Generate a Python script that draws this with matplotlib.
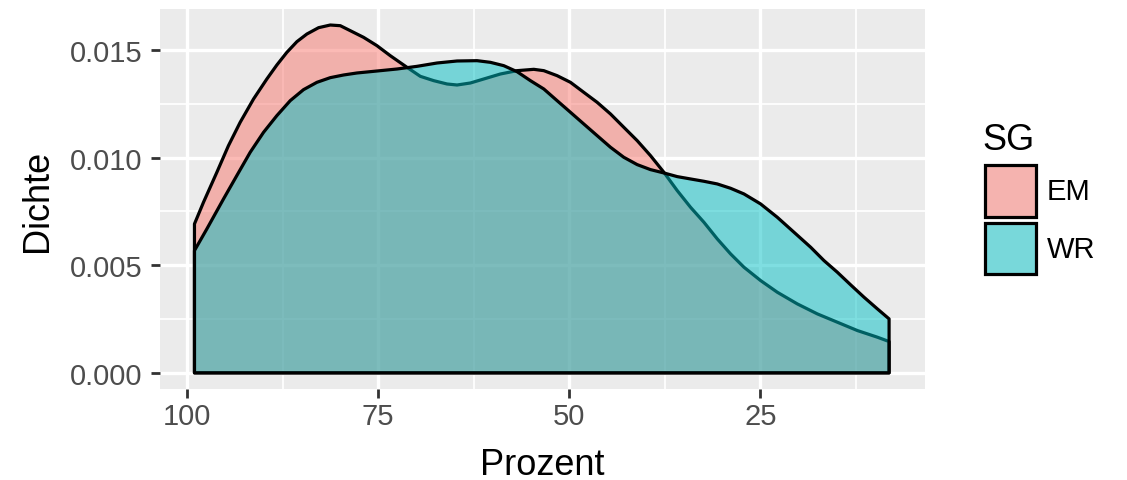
import matplotlib
matplotlib.use('Agg')
import matplotlib.pyplot as plt
from matplotlib.patches import Rectangle

plt.rcParams['font.family'] = ['Liberation Sans', 'DejaVu Sans']

# Dichte-Kurven
prozent_em = [99.04, 97.86, 96.11, 94.59, 93.06, 91.31, 89.57, 88.26, 86.95, 85.64,
              84.33, 82.80, 81.27, 79.96, 78.65, 76.91, 75.16, 73.42, 71.23, 69.49,
              67.74, 65.99, 64.68, 62.94, 61.19, 59.01, 56.83, 54.64, 53.33, 51.59,
              49.84, 48.10, 46.35, 44.60, 42.86, 41.11, 39.37, 37.62, 35.87, 34.13,
              32.38, 30.63, 28.89, 27.14, 24.96, 22.78, 20.16, 17.54, 14.92, 12.30,
              9.68, 8.15]
dichte_em = [0.006917, 0.007923, 0.009316, 0.010554, 0.011637, 0.012721, 0.013649,
             0.014299, 0.014887, 0.015382, 0.015738, 0.016032, 0.016156, 0.016125,
             0.015893, 0.015583, 0.015196, 0.014732, 0.014191, 0.013773, 0.013572,
             0.013417, 0.013370, 0.013463, 0.013649, 0.013881, 0.014036, 0.014098,
             0.014036, 0.013804, 0.013494, 0.013030, 0.012566, 0.012024, 0.011405,
             0.010786, 0.010090, 0.009316, 0.008465, 0.007691, 0.006995, 0.006221,
             0.005525, 0.004906, 0.004287, 0.003745, 0.003203, 0.002739, 0.002352,
             0.001965, 0.001656, 0.001455]

prozent_wr = [99.04, 97.42, 95.24, 93.50, 91.75, 90.00, 88.26, 86.51, 84.77, 83.02,
              81.27, 79.53, 77.78, 75.16, 72.54, 69.92, 67.30, 64.68, 62.07, 60.32,
              58.57, 56.83, 55.08, 53.33, 51.59, 49.84, 48.10, 46.35, 44.60, 42.86,
              41.11, 39.37, 37.62, 35.87, 34.13, 32.38, 30.63, 28.89, 27.14, 24.96,
              22.78, 20.59, 18.41, 16.67, 14.92, 13.17, 11.43, 9.68, 8.15]
dichte_wr = [0.005679, 0.006685, 0.008078, 0.009161, 0.010244, 0.011173, 0.011947,
             0.012643, 0.013154, 0.013494, 0.013711, 0.013835, 0.013928, 0.014020,
             0.014113, 0.014237, 0.014392, 0.014485, 0.014500, 0.014423, 0.014268,
             0.013989, 0.013572, 0.013185, 0.012643, 0.012101, 0.011560, 0.011018,
             0.010477, 0.010012, 0.009672, 0.009440, 0.009285, 0.009115, 0.009006,
             0.008898, 0.008774, 0.008573, 0.008310, 0.007846, 0.007227, 0.006530,
             0.005834, 0.005215, 0.004673, 0.004085, 0.003513, 0.002971, 0.002507]

gruppen = ['EM', 'WR']
farben = ['#F8766D', '#00BFC4']

x_ticks = [100, 75, 50, 25]
y_ticks = [0.0, 0.005, 0.010, 0.015]
y_labels = ['0.000', '0.005', '0.010', '0.015']

W, H = 1127, 481
fig = plt.figure(figsize=(W / 100, H / 100), dpi=100)
ax = fig.add_axes([160 / W, 1 - 390 / H, 765 / W, 380 / H])
ax.set_facecolor('#EBEBEB')
for s in ax.spines.values():
    s.set_visible(False)

# Gitter
for v in [87.5, 62.5, 37.5, 12.5]:
    ax.axvline(v, color='white', lw=1.25, zorder=0)
for v in [0.0025, 0.0075, 0.0125]:
    ax.axhline(v, color='white', lw=1.25, zorder=0)
for v in x_ticks:
    ax.axvline(v, color='white', lw=2.4, zorder=0)
for v in y_ticks:
    ax.axhline(v, color='white', lw=2.4, zorder=0)

kurven = [(prozent_em, dichte_em), (prozent_wr, dichte_wr)]
for (xs, ys), col in zip(kurven, farben):
    px = [xs[0]] + list(xs) + [xs[-1]]
    py = [0.0] + list(ys) + [0.0]
    ax.fill(px, py, facecolor=col, alpha=0.5, edgecolor='none', zorder=2)
    ax.fill(px, py, facecolor='none', edgecolor='black', lw=2.3,
            joinstyle='round', zorder=2)

ax.set_xlim(103.55, 3.45)
ax.set_ylim(-0.00075, 0.0169)
ax.set_xticks(x_ticks)
ax.set_xticklabels([str(t) for t in x_ticks])
ax.set_yticks(y_ticks)
ax.set_yticklabels(y_labels)
ax.tick_params(axis='both', length=6.5, width=2.0, color='#333333',
               labelcolor='#4D4D4D', labelsize=21)
ax.tick_params(axis='x', pad=3)
ax.tick_params(axis='y', pad=6)

fig.text(542 / W, 1 - 475 / H, 'Prozent', fontsize=26, ha='center', va='baseline')
fig.text(38 / W, 1 - 201 / H, 'Dichte', fontsize=26, ha='center', va='center',
         rotation=90)

# Legende
fig.text(982 / W, 1 - 150 / H, 'SG', fontsize=26, ha='left', va='baseline')
key_top = [166.5, 224.2]
for name, col, top in zip(gruppen, farben, key_top):
    y0 = 1 - (top + 51) / H
    fig.patches.append(Rectangle((984.5 / W, y0), 51.5 / W, 51 / H,
                                 transform=fig.transFigure, facecolor='#F2F2F2',
                                 edgecolor='none'))
    fig.patches.append(Rectangle((984.5 / W, y0), 51.5 / W, 51 / H,
                                 transform=fig.transFigure, facecolor=col, alpha=0.5,
                                 edgecolor='none'))
    fig.patches.append(Rectangle((984.5 / W, y0), 51.5 / W, 51 / H,
                                 transform=fig.transFigure, facecolor='none',
                                 edgecolor='black', lw=2.3))
    fig.text(1047 / W, 1 - (top + 25.5) / H, name, fontsize=21, ha='left',
             va='center')

fig.savefig('out.png', dpi=100)
